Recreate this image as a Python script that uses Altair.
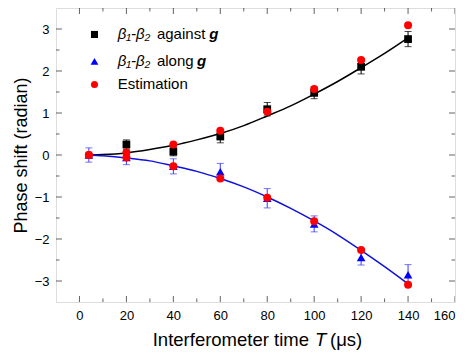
import altair as alt
import pandas as pd

FONT = "Liberation Sans"
W, H = 399, 294

# ---- data ----
T = [4, 20, 40, 60, 80, 100, 120, 140]
against = [None, 0.25, 0.08, 0.44, 1.09, 1.48, 2.10, 2.76]
against_err = [None, 0.11, 0.10, 0.15, 0.16, 0.14, 0.17, 0.18]
along = [0.0, -0.06, -0.27, -0.40, -1.03, -1.64, -2.44, -2.85]
along_err = [0.17, 0.17, 0.18, 0.20, 0.23, 0.19, 0.18, 0.24]
est_pos = [0.0, 0.06, 0.25, 0.58, 1.03, 1.57, 2.26, 3.09]
est_neg = [0.0, -0.06, -0.27, -0.56, -1.02, -1.58, -2.26, -3.09]

fit_T = [4, 10, 20, 30, 40, 50, 60, 70, 80, 90, 100, 110, 120, 130, 140]
fit_against = [0.0, 0.01, 0.05, 0.13, 0.23, 0.36, 0.51, 0.70, 0.93, 1.17, 1.45, 1.75, 2.08, 2.42, 2.79]
fit_along = [0.0, -0.02, -0.07, -0.14, -0.26, -0.39, -0.56, -0.76, -1.00, -1.27, -1.57, -1.90, -2.27, -2.66, -3.07]

x_major = [0, 20, 40, 60, 80, 100, 120, 140, 160]
x_minor = [10, 30, 50, 70, 90, 110, 130, 150]
y_major = [-3, -2, -1, 0, 1, 2, 3]
y_minor = [-2.5, -1.5, -0.5, 0.5, 1.5, 2.5]

legend_y = [2.87, 2.23, 1.68]


def lo(v, e):
    return None if v is None else v - e


def hi(v, e):
    return None if v is None else v + e


# ---- tables ----
pts = pd.DataFrame({
    "T": T, "against": against,
    "a_lo": [lo(v, e) for v, e in zip(against, against_err)],
    "a_hi": [hi(v, e) for v, e in zip(against, against_err)],
    "along": along,
    "b_lo": [lo(v, e) for v, e in zip(along, along_err)],
    "b_hi": [hi(v, e) for v, e in zip(along, along_err)],
    "est_pos": est_pos, "est_neg": est_neg,
})
pts_a = pts.dropna(subset=["against"])
fit = pd.DataFrame({"T": fit_T, "fa": fit_against, "fb": fit_along})

xs = alt.Scale(domain=[-10, 160], nice=False, zero=False)
ys = alt.Scale(domain=[-3.5, 3.5], nice=False, zero=False)

X = alt.X("T:Q", scale=xs, axis=alt.Axis(values=x_major, title=None, grid=False, domain=False,
                                          ticks=False, tickSize=0, labelPadding=7, labelFontSize=13,
                                          labelFont=FONT, labelColor="black", format="d"))
yaxis = alt.Axis(values=y_major, title="Phase shift (radian)", grid=False, domain=False, ticks=False,
                 tickSize=0, labelPadding=7, labelFontSize=13, labelFont=FONT, labelColor="black",
                 titleFont=FONT, titleFontSize=18, titleFontWeight="normal", titleColor="black",
                 titlePadding=4, format="d")


def Y(f):
    return alt.Y(f"{f}:Q", scale=ys, axis=yaxis)


base = alt.Chart(pts)
base_a = alt.Chart(pts_a)

line_a = alt.Chart(fit).mark_line(color="black", strokeWidth=1.5, interpolate="monotone").encode(x=X, y=Y("fa"))
line_b = alt.Chart(fit).mark_line(color="#1010e0", strokeWidth=1.5, interpolate="monotone").encode(x=X, y=Y("fb"))

err_a = base_a.mark_rule(color="black", strokeWidth=1).encode(x=X, y=Y("a_lo"), y2="a_hi:Q")
cap_a1 = base_a.mark_tick(color="black", orient="horizontal", size=7, thickness=1).encode(x=X, y=Y("a_lo"))
cap_a2 = base_a.mark_tick(color="black", orient="horizontal", size=7, thickness=1).encode(x=X, y=Y("a_hi"))
err_b = base.mark_rule(color="#3a3aff", strokeWidth=1).encode(x=X, y=Y("b_lo"), y2="b_hi:Q")
cap_b1 = base.mark_tick(color="#3a3aff", orient="horizontal", size=7, thickness=1).encode(x=X, y=Y("b_lo"))
cap_b2 = base.mark_tick(color="#3a3aff", orient="horizontal", size=7, thickness=1).encode(x=X, y=Y("b_hi"))

sq = base_a.mark_point(shape="square", filled=True, color="black", size=60, opacity=1).encode(x=X, y=Y("against"))
tri = base.mark_point(shape="triangle-up", filled=True, color="#0000ff", size=75, opacity=1).encode(x=X, y=Y("along"))
c1 = base.mark_point(shape="circle", filled=True, color="#ff0000", size=64, opacity=1).encode(x=X, y=Y("est_pos"))
c2 = base.mark_point(shape="circle", filled=True, color="#ff0000", size=64, opacity=1).encode(x=X, y=Y("est_neg"))


# ---- inner ticks on all four sides ----
def xticks(vals, length, ypos):
    return alt.Chart(pd.DataFrame({"T": vals})).mark_tick(
        orient="vertical", size=2 * length, thickness=1, color="#222", clip=True
    ).encode(x=X, y=alt.value(ypos))


def yticks(vals, length, xpos):
    return alt.Chart(pd.DataFrame({"v": vals})).mark_tick(
        orient="horizontal", size=2 * length, thickness=1, color="#222", clip=True
    ).encode(y=Y("v"), x=alt.value(xpos))


ticks = [xticks(x_major, 6, H), xticks(x_minor, 3.5, H), xticks(x_major, 6, 0), xticks(x_minor, 3.5, 0),
         yticks(y_major, 6, 0), yticks(y_minor, 3.5, 0), yticks(y_major, 6, W), yticks(y_minor, 3.5, W)]

# ---- legend (manual, in data coordinates) ----
leg = pd.DataFrame({"T": [6.4, 6.4, 6.4], "y": legend_y})
leg_sq = alt.Chart(leg.iloc[[0]]).mark_point(shape="square", filled=True, color="black", size=50, opacity=1).encode(x=X, y=Y("y"))
leg_tri = alt.Chart(leg.iloc[[1]]).mark_point(shape="triangle-up", filled=True, color="#0000ff", size=60, opacity=1).encode(x=X, y=Y("y"))
leg_c = alt.Chart(leg.iloc[[2]]).mark_point(shape="circle", filled=True, color="#ff0000", size=50, opacity=1).encode(x=X, y=Y("y"))

beta_txt = pd.DataFrame({"T": [16.3, 16.3], "y": legend_y[:2], "t": ["β₁-β₂", "β₁-β₂"]})
norm_txt = pd.DataFrame({"T": [33.0, 33.0, 16.3], "y": legend_y, "t": ["against", "along", "Estimation"]})
g_txt = pd.DataFrame({"T": [55.3, 50.1], "y": legend_y[:2], "t": ["g", "g"]})

txt_kw = dict(font=FONT, fontSize=15, align="left", baseline="middle", color="black")
leg_beta = alt.Chart(beta_txt).mark_text(fontStyle="italic", **txt_kw).encode(x=X, y=Y("y"), text="t:N")
leg_norm = alt.Chart(norm_txt).mark_text(**txt_kw).encode(x=X, y=Y("y"), text="t:N")
leg_g = alt.Chart(g_txt).mark_text(fontStyle="italic", fontWeight="bold", **txt_kw).encode(x=X, y=Y("y"), text="t:N")

# ---- x axis title with italic T ----
tk = dict(font=FONT, fontSize=18.5, baseline="alphabetic", color="black")
xt1 = alt.Chart(pd.DataFrame({"t": ["Interferometer time"]})).mark_text(align="right", **tk).encode(
    x=alt.value(253), y=alt.value(H + 44), text="t:N")
xt2 = alt.Chart(pd.DataFrame({"t": ["T"]})).mark_text(align="left", fontStyle="italic", **tk).encode(
    x=alt.value(259), y=alt.value(H + 44), text="t:N")
xt3 = alt.Chart(pd.DataFrame({"t": ["(μs)"]})).mark_text(align="left", **tk).encode(
    x=alt.value(274), y=alt.value(H + 44), text="t:N")

chart = alt.layer(
    line_a, line_b, err_a, cap_a1, cap_a2, err_b, cap_b1, cap_b2, sq, tri, c1, c2,
    *ticks, leg_sq, leg_tri, leg_c, leg_beta, leg_norm, leg_g, xt1, xt2, xt3
).properties(
    width=W, height=H,
    autosize=alt.AutoSizeParams(type="none"),
    padding={"left": 48, "top": 0, "right": 5, "bottom": 52},
).configure_view(stroke="#222", strokeWidth=1).configure(background="white")

chart.save("out.html", embed_options={"renderer": "svg", "actions": False})
